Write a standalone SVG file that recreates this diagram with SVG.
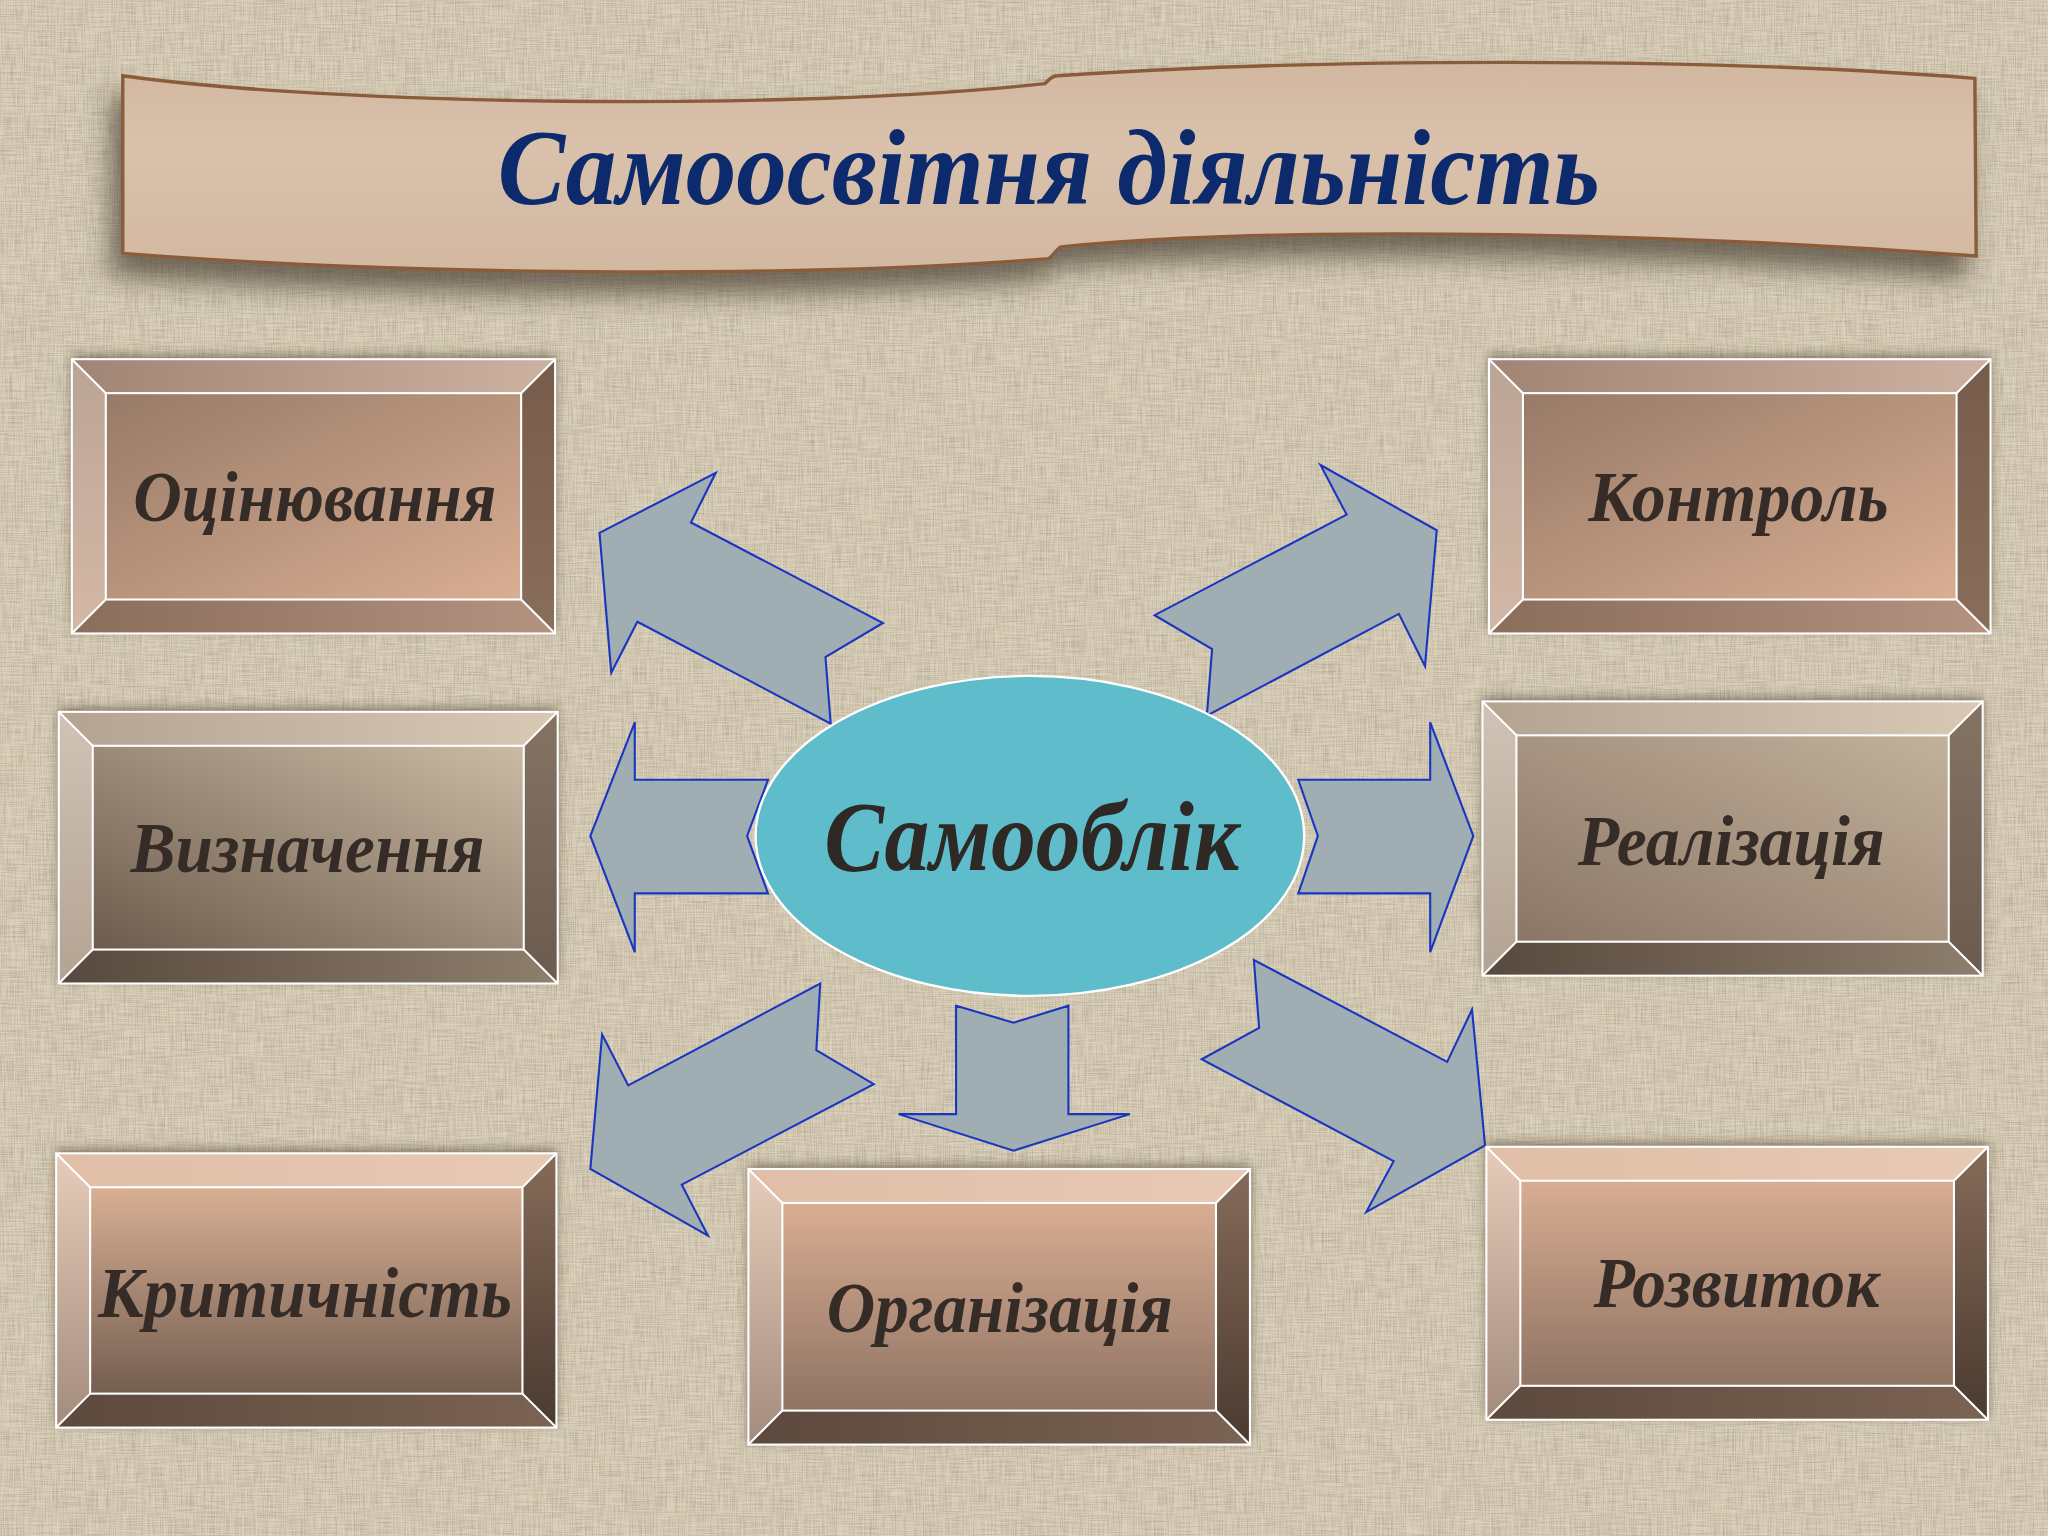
<svg xmlns="http://www.w3.org/2000/svg" width="2048" height="1536" viewBox="0 0 2048 1536">
<style>
.lbl{font-family:"Liberation Serif","Times New Roman",serif;font-weight:bold;font-style:italic;font-size:55px;fill:#352c27}
.title{font-family:"Liberation Serif","Times New Roman",serif;font-weight:bold;font-style:italic;font-size:82px;fill:#0c2a6c}
.center{font-family:"Liberation Serif","Times New Roman",serif;font-weight:bold;font-style:italic;font-size:76px;fill:#2e2925}
.arrow{fill:#a0adb2;stroke:#1836c0;stroke-width:1.6;stroke-linejoin:miter}
.edge{stroke:#ffffff;stroke-width:1.6;fill:none}
</style>
<defs>
<filter id="linen" x="0" y="0" width="100%" height="100%">
<feTurbulence type="fractalNoise" baseFrequency="0.9 0.035" numOctaves="2" seed="3" result="h"/>
<feTurbulence type="fractalNoise" baseFrequency="0.035 0.9" numOctaves="2" seed="7" result="v"/>
<feComposite in="h" in2="v" operator="arithmetic" k2="0.5" k3="0.5"/>
<feColorMatrix type="matrix" values="0 0 0 0 0.38  0 0 0 0 0.33  0 0 0 0 0.24  -1.8 0 0 0 1.1"/>
</filter>
<filter id="bshadow" x="-10%" y="-15%" width="120%" height="130%">
<feDropShadow dx="0" dy="-3" stdDeviation="4" flood-color="#3a2e22" flood-opacity="0.55"/>
</filter>
<filter id="tshadow" x="-10%" y="-20%" width="120%" height="160%">
<feDropShadow dx="-8" dy="16" stdDeviation="10" flood-color="#3a3026" flood-opacity="0.65"/>
</filter>
<linearGradient id="banner" x1="0" y1="0" x2="0" y2="1">
<stop offset="0" stop-color="#d2b7a0"/><stop offset="0.4" stop-color="#d9c1ab"/><stop offset="1" stop-color="#d3b8a1"/>
</linearGradient>
<linearGradient id="aIn" x1="0" y1="0" x2="1" y2="1"><stop offset="0" stop-color="#977a67"/><stop offset="1" stop-color="#d9ae93"/></linearGradient>
<linearGradient id="aTop" x1="0" y1="0" x2="1" y2="0"><stop offset="0" stop-color="#a08474"/><stop offset="1" stop-color="#cdb1a1"/></linearGradient>
<linearGradient id="aLeft" x1="0" y1="0" x2="0" y2="1"><stop offset="0" stop-color="#bba494"/><stop offset="1" stop-color="#d4b8a7"/></linearGradient>
<linearGradient id="aRight" x1="0" y1="0" x2="0" y2="1"><stop offset="0" stop-color="#775c4b"/><stop offset="1" stop-color="#8a6e5c"/></linearGradient>
<linearGradient id="aBot" x1="0" y1="0" x2="1" y2="0"><stop offset="0" stop-color="#8b6d5b"/><stop offset="1" stop-color="#b39280"/></linearGradient>
<linearGradient id="bIn" x1="1" y1="0" x2="0" y2="1"><stop offset="0" stop-color="#cbbaa4"/><stop offset="1" stop-color="#6d5b4d"/></linearGradient>
<linearGradient id="bIn2" x1="1" y1="0" x2="0" y2="1"><stop offset="0" stop-color="#c2b19b"/><stop offset="1" stop-color="#8a7666"/></linearGradient>
<linearGradient id="bTop" x1="0" y1="0" x2="1" y2="0"><stop offset="0" stop-color="#b5a392"/><stop offset="1" stop-color="#d8c8b4"/></linearGradient>
<linearGradient id="bLeft" x1="0" y1="0" x2="0" y2="1"><stop offset="0" stop-color="#d0c3b5"/><stop offset="1" stop-color="#b3a393"/></linearGradient>
<linearGradient id="bRight" x1="0" y1="0" x2="0" y2="1"><stop offset="0" stop-color="#857464"/><stop offset="1" stop-color="#6b5b4e"/></linearGradient>
<linearGradient id="bBot" x1="0" y1="0" x2="1" y2="0"><stop offset="0" stop-color="#58493e"/><stop offset="1" stop-color="#8e7e6d"/></linearGradient>
<linearGradient id="cIn" x1="0" y1="0" x2="0" y2="1"><stop offset="0" stop-color="#d8af94"/><stop offset="1" stop-color="#745e50"/></linearGradient>
<linearGradient id="cIn2" x1="0" y1="0" x2="0" y2="1"><stop offset="0" stop-color="#d8ad92"/><stop offset="1" stop-color="#8f7363"/></linearGradient>
<linearGradient id="cTop" x1="0" y1="0" x2="1" y2="0"><stop offset="0" stop-color="#e0bea8"/><stop offset="1" stop-color="#e8c9b3"/></linearGradient>
<linearGradient id="cLeft" x1="0" y1="0" x2="0" y2="1"><stop offset="0" stop-color="#e6ccba"/><stop offset="1" stop-color="#a38b7c"/></linearGradient>
<linearGradient id="cRight" x1="0" y1="0" x2="0" y2="1"><stop offset="0" stop-color="#866b59"/><stop offset="1" stop-color="#4a3a30"/></linearGradient>
<linearGradient id="cBot" x1="0" y1="0" x2="1" y2="0"><stop offset="0" stop-color="#5c493d"/><stop offset="1" stop-color="#7b6353"/></linearGradient>
</defs>

<rect x="0" y="0" width="2048" height="1536" fill="#dbd1bb"/>
<rect x="0" y="0" width="2048" height="1536" filter="url(#linen)"/>

<g transform="scale(1.306122)">

<g id="title">
<path filter="url(#tshadow)" d="M94,58 C250,80 600,86 800,64 C804,60 806,58 810,58 C1000,45 1300,43 1512,60 L1513,196 C1300,180 1000,171 812,189 C808,192 806,196 803,198 C600,214 300,210 94,194 Z" fill="url(#banner)" stroke="#8a5c3a" stroke-width="2.6"/>
<text class="title" x="381" y="156" textLength="844" lengthAdjust="spacingAndGlyphs">Самоосвітня діяльність</text>
</g>

<g id="connectors">
<polygon class="arrow" points="459,408 548,362 529,400 676,477 632,503 636,554 488,476 468,515"/>
<polygon class="arrow" points="1100,406 1011,356 1031,394 884,471 928,497 924,548 1071,470 1091,510"/>
<polygon class="arrow" points="452,640 486,553 486,597 588,597 572,640 588,684 486,684 486,729"/>
<polygon class="arrow" points="1128,640 1095,553 1095,597 994,597 1009,640 994,684 1095,684 1095,729"/>
<polygon class="arrow" points="452,895 461,792 481,831 628,753 625,804 669,830 522,907 542,946"/>
<polygon class="arrow" points="732,770 776,783 818,770 818,853 865,853 776,881 688,853 732,853"/>
<polygon class="arrow" points="1137,877 1127,773 1108,813 960,735 964,787 920,811 1067,889 1046,928"/>
</g>

<g id="center">
<ellipse cx="788.5" cy="640" rx="210" ry="122.5" fill="#5fbccb" stroke="#ffffff" stroke-width="1.8"/>
<text class="center" x="631" y="666" textLength="318" lengthAdjust="spacingAndGlyphs">Самооблік</text>
</g>

<g id="box-otsiniuvannia">
<rect x="55" y="275" width="370" height="210" fill="#6a5a4a" filter="url(#bshadow)"/>
<polygon points="55,275 425,275 399,301 81,301" fill="url(#aTop)"/>
<polygon points="55,275 81,301 81,459 55,485" fill="url(#aLeft)"/>
<polygon points="425,275 425,485 399,459 399,301" fill="url(#aRight)"/>
<polygon points="55,485 81,459 399,459 425,485" fill="url(#aBot)"/>
<rect x="81" y="301" width="318" height="158" fill="url(#aIn)"/>
<rect class="edge" x="55" y="275" width="370" height="210"/>
<rect class="edge" x="81" y="301" width="318" height="158"/>
<path class="edge" d="M55,275 L81,301 M425,275 L399,301 M55,485 L81,459 M425,485 L399,459"/>
<text class="lbl" x="102" y="399" textLength="278" lengthAdjust="spacingAndGlyphs">Оцінювання</text>
</g>

<g id="box-kontrol">
<rect x="1140" y="275" width="384" height="210" fill="#6a5a4a" filter="url(#bshadow)"/>
<polygon points="1140,275 1524,275 1498,301 1166,301" fill="url(#aTop)"/>
<polygon points="1140,275 1166,301 1166,459 1140,485" fill="url(#aLeft)"/>
<polygon points="1524,275 1524,485 1498,459 1498,301" fill="url(#aRight)"/>
<polygon points="1140,485 1166,459 1498,459 1524,485" fill="url(#aBot)"/>
<rect x="1166" y="301" width="332" height="158" fill="url(#aIn)"/>
<rect class="edge" x="1140" y="275" width="384" height="210"/>
<rect class="edge" x="1166" y="301" width="332" height="158"/>
<path class="edge" d="M1140,275 L1166,301 M1524,275 L1498,301 M1140,485 L1166,459 M1524,485 L1498,459"/>
<text class="lbl" x="1216" y="399" textLength="230" lengthAdjust="spacingAndGlyphs">Контроль</text>
</g>

<g id="box-vyznachennia">
<rect x="45" y="545" width="382" height="208" fill="#6a5a4a" filter="url(#bshadow)"/>
<polygon points="45,545 427,545 401,571 71,571" fill="url(#bTop)"/>
<polygon points="45,545 71,571 71,727 45,753" fill="url(#bLeft)"/>
<polygon points="427,545 427,753 401,727 401,571" fill="url(#bRight)"/>
<polygon points="45,753 71,727 401,727 427,753" fill="url(#bBot)"/>
<rect x="71" y="571" width="330" height="156" fill="url(#bIn)"/>
<rect class="edge" x="45" y="545" width="382" height="208"/>
<rect class="edge" x="71" y="571" width="330" height="156"/>
<path class="edge" d="M45,545 L71,571 M427,545 L401,571 M45,753 L71,727 M427,753 L401,727"/>
<text class="lbl" x="100" y="668" textLength="271" lengthAdjust="spacingAndGlyphs">Визначення</text>
</g>

<g id="box-realizatsiia">
<rect x="1135" y="537" width="383" height="210" fill="#6a5a4a" filter="url(#bshadow)"/>
<polygon points="1135,537 1518,537 1492,563 1161,563" fill="url(#bTop)"/>
<polygon points="1135,537 1161,563 1161,721 1135,747" fill="url(#bLeft)"/>
<polygon points="1518,537 1518,747 1492,721 1492,563" fill="url(#bRight)"/>
<polygon points="1135,747 1161,721 1492,721 1518,747" fill="url(#bBot)"/>
<rect x="1161" y="563" width="331" height="158" fill="url(#bIn2)"/>
<rect class="edge" x="1135" y="537" width="383" height="210"/>
<rect class="edge" x="1161" y="563" width="331" height="158"/>
<path class="edge" d="M1135,537 L1161,563 M1518,537 L1492,563 M1135,747 L1161,721 M1518,747 L1492,721"/>
<text class="lbl" x="1208" y="662" textLength="235" lengthAdjust="spacingAndGlyphs">Реалізація</text>
</g>

<g id="box-krytychnist">
<rect x="43" y="883" width="383" height="210" fill="#6a5a4a" filter="url(#bshadow)"/>
<polygon points="43,883 426,883 400,909 69,909" fill="url(#cTop)"/>
<polygon points="43,883 69,909 69,1067 43,1093" fill="url(#cLeft)"/>
<polygon points="426,883 426,1093 400,1067 400,909" fill="url(#cRight)"/>
<polygon points="43,1093 69,1067 400,1067 426,1093" fill="url(#cBot)"/>
<rect x="69" y="909" width="331" height="158" fill="url(#cIn)"/>
<rect class="edge" x="43" y="883" width="383" height="210"/>
<rect class="edge" x="69" y="909" width="331" height="158"/>
<path class="edge" d="M43,883 L69,909 M426,883 L400,909 M43,1093 L69,1067 M426,1093 L400,1067"/>
<text class="lbl" x="75" y="1008" textLength="317" lengthAdjust="spacingAndGlyphs">Критичність</text>
</g>

<g id="box-orhanizatsiia">
<rect x="573" y="895" width="384" height="211" fill="#6a5a4a" filter="url(#bshadow)"/>
<polygon points="573,895 957,895 931,921 599,921" fill="url(#cTop)"/>
<polygon points="573,895 599,921 599,1080 573,1106" fill="url(#cLeft)"/>
<polygon points="957,895 957,1106 931,1080 931,921" fill="url(#cRight)"/>
<polygon points="573,1106 599,1080 931,1080 957,1106" fill="url(#cBot)"/>
<rect x="599" y="921" width="332" height="159" fill="url(#cIn2)"/>
<rect class="edge" x="573" y="895" width="384" height="211"/>
<rect class="edge" x="599" y="921" width="332" height="159"/>
<path class="edge" d="M573,895 L599,921 M957,895 L931,921 M573,1106 L599,1080 M957,1106 L931,1080"/>
<text class="lbl" x="633" y="1020" textLength="265" lengthAdjust="spacingAndGlyphs">Організація</text>
</g>

<g id="box-rozvytok">
<rect x="1138" y="878" width="384" height="209" fill="#6a5a4a" filter="url(#bshadow)"/>
<polygon points="1138,878 1522,878 1496,904 1164,904" fill="url(#cTop)"/>
<polygon points="1138,878 1164,904 1164,1061 1138,1087" fill="url(#cLeft)"/>
<polygon points="1522,878 1522,1087 1496,1061 1496,904" fill="url(#cRight)"/>
<polygon points="1138,1087 1164,1061 1496,1061 1522,1087" fill="url(#cBot)"/>
<rect x="1164" y="904" width="332" height="157" fill="url(#cIn2)"/>
<rect class="edge" x="1138" y="878" width="384" height="209"/>
<rect class="edge" x="1164" y="904" width="332" height="157"/>
<path class="edge" d="M1138,878 L1164,904 M1522,878 L1496,904 M1138,1087 L1164,1061 M1522,1087 L1496,1061"/>
<text class="lbl" x="1220" y="1001" textLength="219" lengthAdjust="spacingAndGlyphs">Розвиток</text>
</g>

</g>
</svg>
